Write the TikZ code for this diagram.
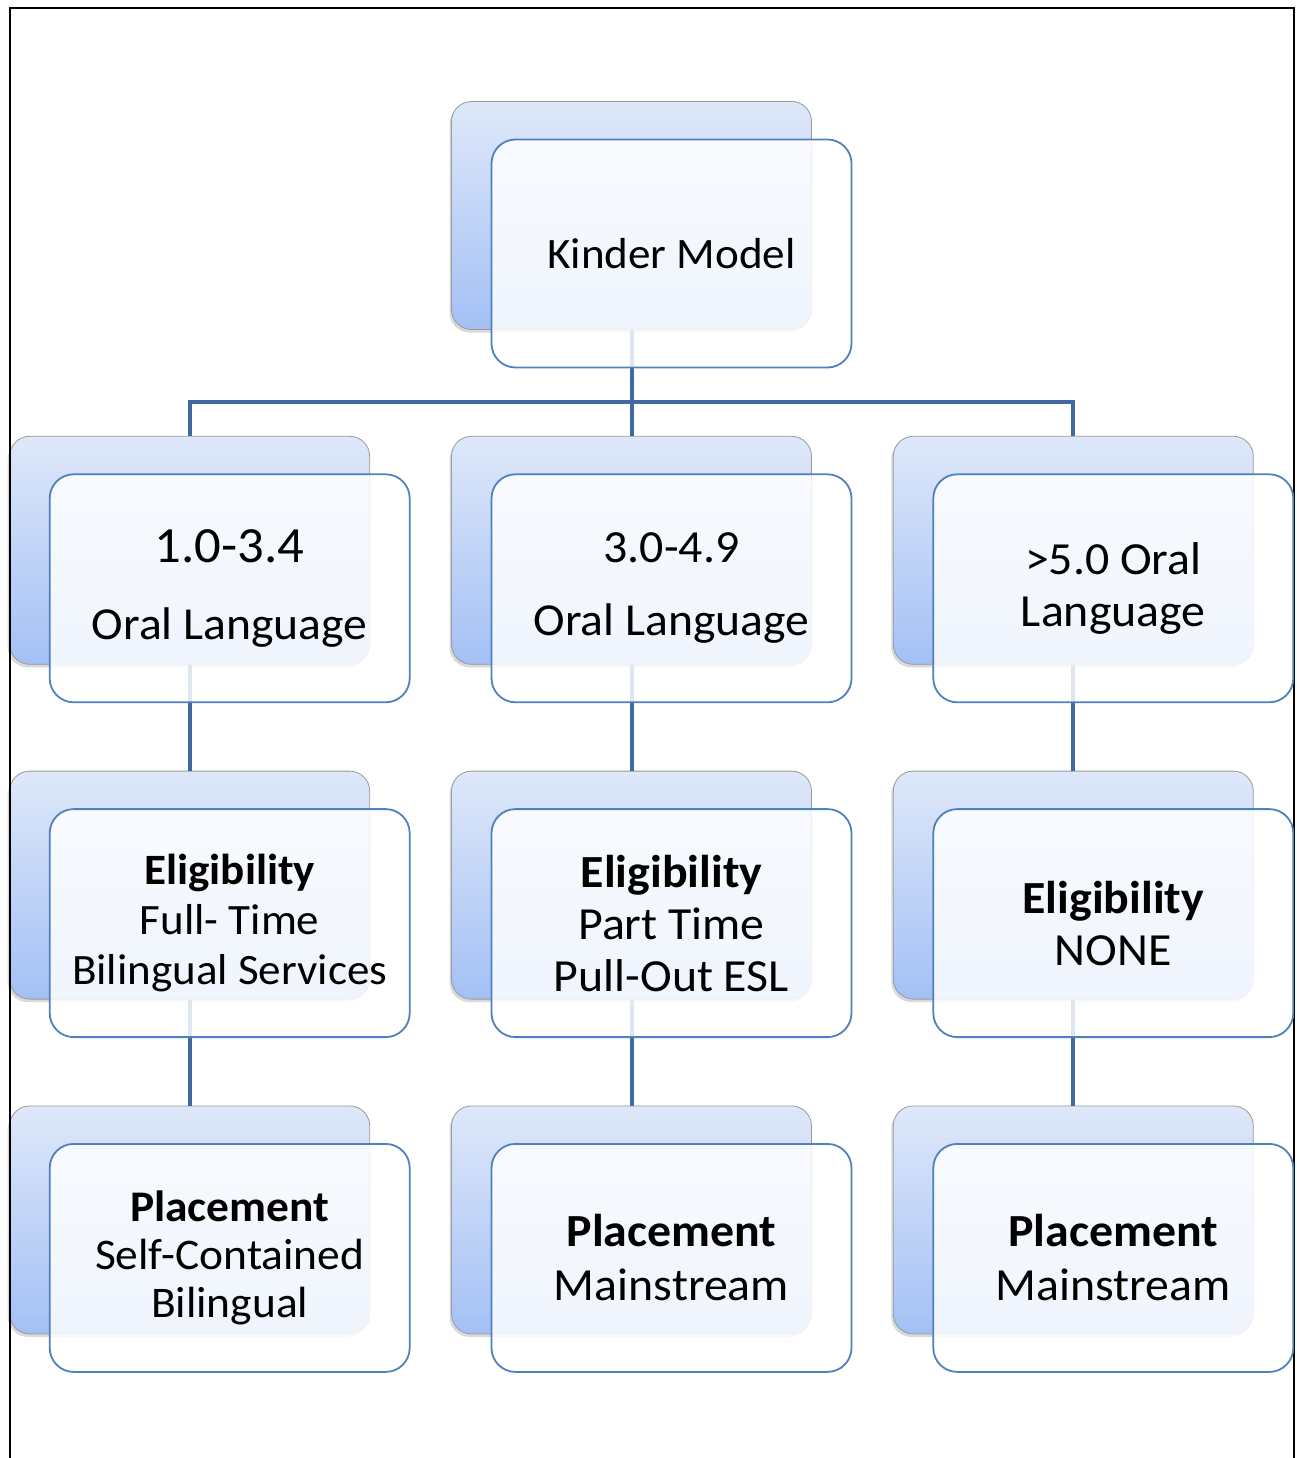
\documentclass[tikz,border=0pt]{standalone}
\usepackage{fontspec}
\setmainfont{Carlito}[FakeStretch=1.04]
\usepackage{xcolor}
\usetikzlibrary{positioning, shadows}

\definecolor{cardedge}{HTML}{4F81BD}
\definecolor{linkblue}{HTML}{41699F}
\definecolor{shadetop}{HTML}{DFE8FA}
\definecolor{shadebot}{HTML}{A3C0F5}

\pgfdeclarelayer{shadelayer}
\pgfdeclarelayer{linklayer}
\pgfsetlayers{shadelayer,linklayer,main}

\begin{document}
\begin{tikzpicture}[
    x=1pt, y=-1pt,
    cardbox/.style={rectangle, rounded corners=24pt, draw=cardedge, line width=1.8pt, fill=white, fill opacity=0.84, text opacity=1, minimum width=360pt, minimum height=228pt, align=center, inner sep=0pt, font=\fontsize{46}{52}\selectfont},
    shadebox/.style={rectangle, rounded corners=20pt, draw=black!40, line width=0.8pt, top color=shadetop, bottom color=shadebot, minimum width=360pt, minimum height=228pt, drop shadow={shadow xshift=-2pt, shadow yshift=-3pt, opacity=0.3}},
    link/.style={draw=linkblue, line width=4pt},
    node distance=105pt and 80pt
]
\useasboundingbox (0,0) rectangle (1297,1458);

% outer frame
\draw[line width=2.5pt] (10,1458) -- (10,8) -- (1294,8) -- (1294,1458);

\node[cardbox, font=\fontsize{43.4}{52}\selectfont] (kinder) at (671.5,253.5) {Kinder Model};

\node[cardbox, below=of kinder] (midscore) {3.0-4.9\\[21pt]{\fontsize{45.8}{52}\selectfont Oral Language}};
\node[cardbox, left=of midscore, font=\fontsize{45.8}{52}\selectfont] (lowscore) {{\fontsize{50.7}{60}\selectfont 1.0-3.4}\\[25pt]Oral Language};
\node[cardbox, right=of midscore] (highscore) {>5.0 Oral\\Language};

\node[cardbox, below=of lowscore, font=\fontsize{43.3}{50}\selectfont] (fulltime) {\textbf{Eligibility}\\Full- Time\\Bilingual Services};
\node[cardbox, below=of midscore] (parttime) {\textbf{Eligibility}\\Part Time\\Pull-Out ESL};
\node[cardbox, below=of highscore] (noservice) {\textbf{Eligibility}\\NONE};

\node[cardbox, below=of fulltime, font=\fontsize{43.7}{48}\selectfont] (selfcont) {\textbf{Placement}\\Self-Contained\\Bilingual};
\node[cardbox, below=of parttime, font=\fontsize{46}{54}\selectfont] (mainmid) {\textbf{Placement}\\Mainstream};
\node[cardbox, below=of noservice, font=\fontsize{46}{54}\selectfont] (mainhigh) {\textbf{Placement}\\Mainstream};

% shaded cards behind
\begin{pgfonlayer}{shadelayer}
\node[shadebox] (kinder-bk) at ([xshift=-40pt, yshift=38pt]kinder.center) {};
\node[shadebox] (lowscore-bk) at ([xshift=-40pt, yshift=38pt]lowscore.center) {};
\node[shadebox] (midscore-bk) at ([xshift=-40pt, yshift=38pt]midscore.center) {};
\node[shadebox] (highscore-bk) at ([xshift=-40pt, yshift=38pt]highscore.center) {};
\node[shadebox] (fulltime-bk) at ([xshift=-40pt, yshift=38pt]fulltime.center) {};
\node[shadebox] (parttime-bk) at ([xshift=-40pt, yshift=38pt]parttime.center) {};
\node[shadebox] (noservice-bk) at ([xshift=-40pt, yshift=38pt]noservice.center) {};
\node[shadebox] (selfcont-bk) at ([xshift=-40pt, yshift=38pt]selfcont.center) {};
\node[shadebox] (mainmid-bk) at ([xshift=-40pt, yshift=38pt]mainmid.center) {};
\node[shadebox] (mainhigh-bk) at ([xshift=-40pt, yshift=38pt]mainhigh.center) {};
\end{pgfonlayer}

% connectors
\begin{pgfonlayer}{linklayer}
\draw[link] (kinder-bk.south) -- ++(0,-72pt) -| (lowscore-bk.north);
\draw[link] (kinder-bk.south) -- ++(0,-72pt) -| (highscore-bk.north);
\draw[link] (kinder-bk) -- (midscore-bk);
\draw[link] (lowscore-bk) -- (fulltime-bk);
\draw[link] (midscore-bk) -- (parttime-bk);
\draw[link] (highscore-bk) -- (noservice-bk);
\draw[link] (fulltime-bk) -- (selfcont-bk);
\draw[link] (parttime-bk) -- (mainmid-bk);
\draw[link] (noservice-bk) -- (mainhigh-bk);
\end{pgfonlayer}

\end{tikzpicture}
\end{document}
